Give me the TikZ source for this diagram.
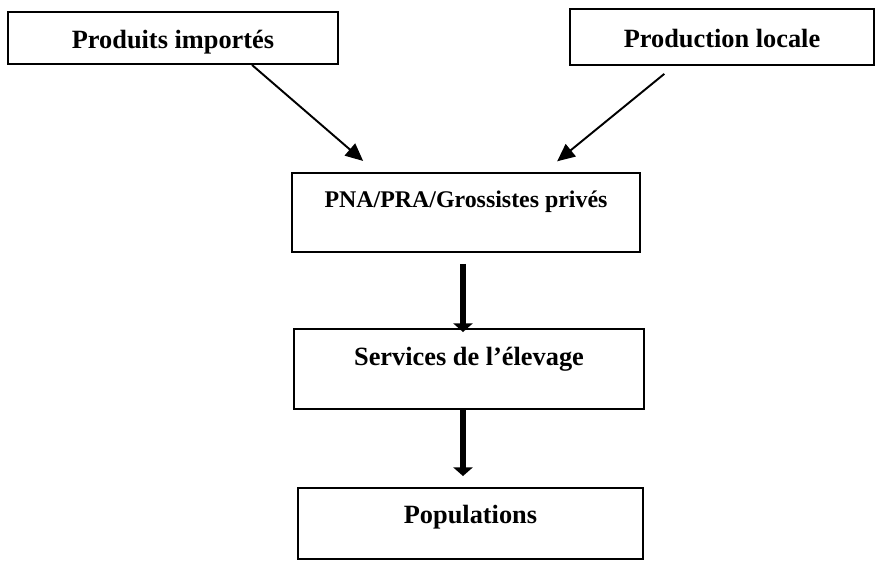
\documentclass[tikz,border=0pt]{standalone}
\usepackage{fontspec}
\setmainfont{Liberation Serif}
\usetikzlibrary{arrows.meta, calc}

\begin{document}
\begin{tikzpicture}[x=0.02cm, y=-0.02cm,
        box/.style={draw, line width=1.1pt, inner sep=0pt, align=center,
            font=\fontsize{15}{18}\selectfont\bfseries},
        flow/.style={-{Triangle[length=10pt, width=9pt]}, line width=1.1pt},
        bigflow/.style={-{Triangle[length=5pt, width=11pt]}, line width=3.4pt}]

        \useasboundingbox (0,0) rectangle (875,566);

        % --- Boxes ---
        \node[box, minimum width=6.6cm, minimum height=1.04cm,
              text height=0.52cm, text depth=0.12cm]   (imp)  at (173,38)    {Produits importés};
        \node[box, minimum width=6.08cm, minimum height=1.12cm,
              text height=0.5cm, text depth=0.1cm]     (prod) at (722,37)    {Production locale};
        \node[box, minimum width=6.96cm, minimum height=1.58cm,
              text height=0.36cm, text depth=0.58cm,
              font=\fontsize{13.6}{16}\selectfont\bfseries] (pna) at (466,212.5) {PNA/PRA/Grossistes privés};
        \node[box, minimum width=7cm, minimum height=1.6cm,
              text height=0.36cm, text depth=0.52cm]   (serv) at (469,369)   {Services de l’élevage};
        \node[box, minimum width=6.9cm, minimum height=1.42cm,
              text height=0.36cm, text depth=0.38cm]   (pop)  at (470.5,523.5) {Populations};

        % --- Arrows ---
        \draw[flow, shorten >=0.34cm] ($(imp.south)+(79,0)$) -- ($(pna.north)+(-90,0)$);
        \draw[flow, shorten <=0.25cm, shorten >=0.34cm] ($(prod.south)+(-48,0)$) -- ($(pna.north)+(78,0)$);
        \draw[bigflow, shorten <=0.22cm, shorten >=-0.08cm] ($(pna.south)+(-3,0)$) -- ($(serv.north)+(-6,0)$);
        \draw[bigflow, shorten >=0.22cm] ($(serv.south)+(-6,0)$) -- ($(pop.north)+(-7.5,0)$);

\end{tikzpicture}
\end{document}
